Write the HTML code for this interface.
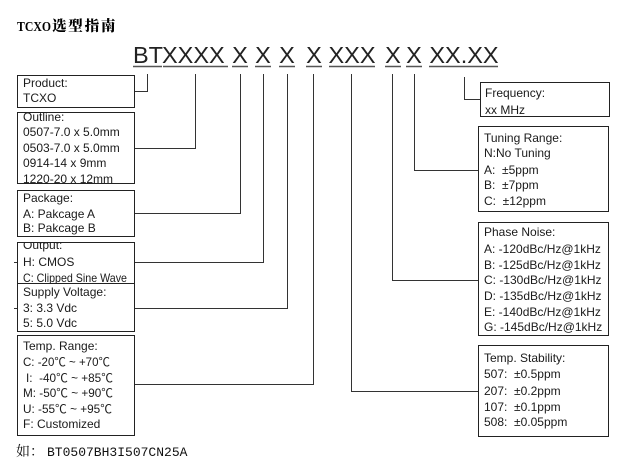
<!DOCTYPE html>
<html><head><meta charset="utf-8"><style>
html,body{margin:0;padding:0;background:#fff;}
svg{display:block;}
text{font-family:"Liberation Sans","Noto Sans CJK SC",sans-serif;font-size:12px;fill:#1a1a1a;white-space:pre;}
.code{font-size:23.5px;fill:#222;}
</style></head><body>
<svg width="627" height="470" viewBox="0 0 627 470" xmlns="http://www.w3.org/2000/svg">
<defs>
<clipPath id="cOut"><rect x="18" y="113" width="116" height="71"/></clipPath>
<clipPath id="cOutput"><rect x="18" y="243" width="116" height="40"/></clipPath>
</defs>
<!-- title -->
<text x="17" y="31" textLength="34" lengthAdjust="spacingAndGlyphs" style="font-family:'Liberation Serif','Noto Serif CJK SC',serif;font-weight:bold;font-size:14px;fill:#000">TCXO</text>
<text x="52" y="31" style="font-family:'Noto Serif CJK SC','Noto Sans CJK SC',serif;font-weight:900;font-size:14.5px;letter-spacing:1.8px;fill:#000">选型指南</text>

<!-- code line -->
<g class="code">
<text class="code" x="133" y="63">BT</text>
<text class="code" x="162" y="63">XXXX</text>
<text class="code" x="240" y="63" text-anchor="middle">X</text>
<text class="code" x="263" y="63" text-anchor="middle">X</text>
<text class="code" x="287" y="63" text-anchor="middle">X</text>
<text class="code" x="314" y="63" text-anchor="middle">X</text>
<text class="code" x="352" y="63" text-anchor="middle">XXX</text>
<text class="code" x="393" y="63" text-anchor="middle">X</text>
<text class="code" x="414" y="63" text-anchor="middle">X</text>
<text class="code" x="464" y="63" text-anchor="middle">XX.XX</text>
</g>
<g stroke="#555" stroke-width="1.5">
<line x1="133" y1="66.5" x2="162" y2="66.5"/>
<line x1="163" y1="66.5" x2="228" y2="66.5"/>
<line x1="232" y1="66.5" x2="248" y2="66.5"/>
<line x1="255" y1="66.5" x2="271" y2="66.5"/>
<line x1="279" y1="66.5" x2="295" y2="66.5"/>
<line x1="306" y1="66.5" x2="322" y2="66.5"/>
<line x1="329" y1="66.5" x2="375" y2="66.5"/>
<line x1="385" y1="66.5" x2="401" y2="66.5"/>
<line x1="406" y1="66.5" x2="422" y2="66.5"/>
<line x1="429" y1="66.5" x2="498" y2="66.5"/>
</g>

<!-- connectors -->
<g stroke="#333" stroke-width="1" fill="none">
<polyline points="147.5,74 147.5,91.5 135,91.5"/>
<polyline points="195.5,74 195.5,148.5 135,148.5"/>
<polyline points="240.5,74 240.5,213.5 135,213.5"/>
<polyline points="263.5,74 263.5,262.5 135,262.5"/>
<polyline points="287.5,74 287.5,308.5 135,308.5"/>
<polyline points="313.5,74 313.5,384.5 135,384.5"/>
<polyline points="351.5,74 351.5,391.5 478,391.5"/>
<polyline points="392.5,74 392.5,280.5 478,280.5"/>
<polyline points="414.5,74 414.5,170.5 478,170.5"/>
<polyline points="464.5,77 464.5,99.5 480,99.5"/>
<line x1="14" y1="262.5" x2="17" y2="262.5"/>
<line x1="14" y1="308.5" x2="17" y2="308.5"/>
</g>

<!-- left boxes -->
<g fill="#fff" stroke="#222" stroke-width="1">
<rect x="17.5" y="75.5" width="117" height="32"/>
<rect x="17.5" y="112.5" width="117" height="71"/>
<rect x="17.5" y="190.5" width="117" height="46"/>
<rect x="17.5" y="242.5" width="117" height="41"/>
</g>
<text x="23" y="87">Product:</text>
<text x="23" y="102">TCXO</text>
<g clip-path="url(#cOut)">
<text x="23" y="121">Outline:</text>
<text x="23" y="136">0507-7.0 x 5.0mm</text>
<text x="23" y="152">0503-7.0 x 5.0mm</text>
<text x="23" y="167">0914-14 x 9mm</text>
<text x="23" y="183">1220-20 x 12mm</text>
</g>
<rect x="17.5" y="112.5" width="117" height="71" fill="none" stroke="#222"/>
<text x="23" y="202">Package:</text>
<text x="23" y="218">A: Pakcage A</text>
<text x="23" y="232">B: Pakcage B</text>
<g clip-path="url(#cOutput)">
<text x="23" y="249">Output:</text>
<text x="23" y="266">H: CMOS</text>
<text x="23" y="282" textLength="104" lengthAdjust="spacingAndGlyphs">C: Clipped Sine Wave</text>
</g>
<rect x="17.5" y="283.5" width="117" height="48" fill="#fff" stroke="#222"/>
<text x="23" y="296">Supply Voltage:</text>
<text x="23" y="312">3: 3.3 Vdc</text>
<text x="23" y="327">5: 5.0 Vdc</text>
<rect x="17.5" y="335.5" width="117" height="100" fill="#fff" stroke="#222"/>
<text x="23" y="350">Temp. Range:</text>
<text x="23" y="366" textLength="87" lengthAdjust="spacingAndGlyphs">C: -20℃ ~ +70℃</text>
<text x="26" y="382" textLength="87" lengthAdjust="spacingAndGlyphs">I:  -40℃ ~ +85℃</text>
<text x="23" y="397" textLength="90" lengthAdjust="spacingAndGlyphs">M: -50℃ ~ +90℃</text>
<text x="23" y="413" textLength="89" lengthAdjust="spacingAndGlyphs">U: -55℃ ~ +95℃</text>
<text x="23" y="428">F: Customized</text>

<!-- right boxes -->
<g fill="#fff" stroke="#222" stroke-width="1">
<rect x="480.5" y="82.5" width="129" height="34"/>
<rect x="478.5" y="126.5" width="130" height="85"/>
<rect x="478.5" y="222.5" width="130" height="113"/>
<rect x="478.5" y="345.5" width="130" height="91"/>
</g>
<text x="485" y="97">Frequency:</text>
<text x="485" y="114">xx MHz</text>
<text x="484" y="142">Tuning Range:</text>
<text x="484" y="157">N:No Tuning</text>
<text x="484" y="174">A:  ±5ppm</text>
<text x="484" y="189">B:  ±7ppm</text>
<text x="484" y="205">C:  ±12ppm</text>
<text x="484" y="236">Phase Noise:</text>
<text x="484" y="253">A: -120dBc/Hz@1kHz</text>
<text x="484" y="269">B: -125dBc/Hz@1kHz</text>
<text x="484" y="284">C: -130dBc/Hz@1kHz</text>
<text x="484" y="300">D: -135dBc/Hz@1kHz</text>
<text x="484" y="316">E: -140dBc/Hz@1kHz</text>
<text x="484" y="331">G: -145dBc/Hz@1kHz</text>
<text x="484" y="362">Temp. Stability:</text>
<text x="484" y="378">507:  ±0.5ppm</text>
<text x="484" y="395">207:  ±0.2ppm</text>
<text x="484" y="411">107:  ±0.1ppm</text>
<text x="484" y="426">508:  ±0.05ppm</text>

<!-- example -->
<text x="16" y="456" style="font-family:'Noto Serif CJK SC','Noto Sans CJK SC',serif;font-size:14px;fill:#111">如：</text>
<text x="47" y="456" style="font-family:'Liberation Mono',monospace;font-size:13px;fill:#111">BT0507BH3I507CN25A</text>
</svg>
</body></html>
